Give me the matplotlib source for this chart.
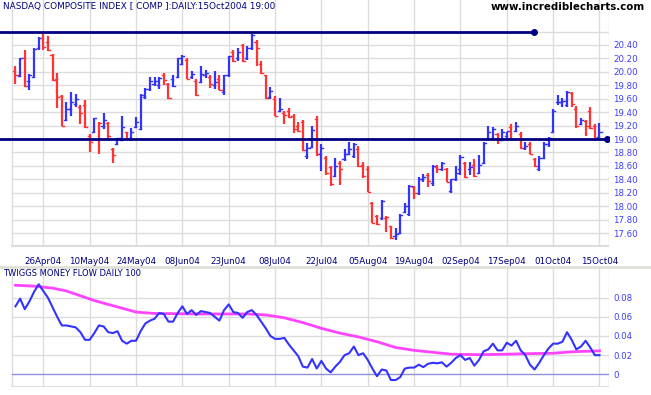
import numpy as np
import matplotlib
matplotlib.use("Agg")
import matplotlib.pyplot as plt

# daily bars, 16 Apr 2004 .. 15 Oct 2004 (trading-day index)
high = [20.08, 20.21, 20.33, 19.97, 20.36, 20.52, 20.60, 20.54, 20.27, 19.98,
        19.66, 19.55, 19.70, 19.67, 19.50, 19.58, 19.08, 19.32, 19.26, 19.38,
        19.26, 18.87, 19.02, 19.35, 19.11, 19.17, 19.33, 19.67, 19.76, 19.93,
        19.92, 19.93, 19.98, 19.84, 19.96, 20.21, 20.25, 20.20, 20.02, 19.89,
        20.08, 20.03, 19.95, 20.02, 19.95, 19.95, 20.24, 20.33, 20.35, 20.42,
        20.39, 20.57, 20.47, 20.16, 19.96, 19.77, 19.64, 19.61, 19.41, 19.46,
        19.37, 19.25, 19.28, 18.94, 19.19, 19.34, 18.92, 18.75, 18.60, 18.71,
        18.68, 18.85, 18.96, 18.94, 18.89, 18.66, 18.60, 18.06, 17.87, 18.09,
        17.85, 17.71, 17.67, 17.89, 18.04, 18.31, 18.30, 18.43, 18.48, 18.49,
        18.61, 18.61, 18.66, 18.57, 18.41, 18.60, 18.76, 18.66, 18.66, 18.70,
        18.76, 18.95, 19.19, 19.18, 19.09, 19.15, 19.11, 19.22, 19.26, 19.10,
        18.95, 18.96, 18.72, 18.75, 18.95, 19.03, 19.44, 19.65, 19.61, 19.72,
        19.70, 19.49, 19.31, 19.29, 19.47, 19.22, 19.24]
low = [19.82, 19.92, 19.78, 19.73, 19.91, 20.33, 20.33, 20.31, 19.87, 19.46,
       19.19, 19.27, 19.34, 19.48, 19.23, 19.17, 18.80, 19.09, 18.78, 19.15,
       18.98, 18.65, 18.91, 18.97, 18.98, 19.00, 19.16, 19.14, 19.59, 19.71,
       19.79, 19.74, 19.80, 19.60, 19.78, 19.92, 20.10, 19.90, 19.90, 19.64,
       19.83, 19.91, 19.76, 19.75, 19.73, 19.66, 19.92, 20.15, 20.16, 20.15,
       20.17, 20.32, 20.08, 19.97, 19.60, 19.60, 19.34, 19.40, 19.22, 19.31,
       19.09, 19.11, 18.82, 18.70, 18.86, 18.74, 18.53, 18.46, 18.30, 18.43,
       18.32, 18.67, 18.76, 18.71, 18.59, 18.42, 18.21, 17.75, 17.72, 17.80,
       17.61, 17.51, 17.50, 17.58, 17.90, 17.85, 18.11, 18.16, 18.36, 18.28,
       18.30, 18.50, 18.53, 18.36, 18.19, 18.38, 18.46, 18.42, 18.47, 18.44,
       18.48, 18.63, 18.98, 19.00, 18.92, 18.97, 18.97, 18.99, 19.10, 18.85,
       18.83, 18.77, 18.58, 18.52, 18.70, 18.88, 19.09, 19.50, 19.47, 19.47,
       19.47, 19.17, 19.21, 19.05, 19.15, 19.01, 19.01]
open_ = [20.02, 19.94, 20.20, 19.87, 19.92, 20.35, 20.50, 20.45, 20.25, 19.90,
         19.64, 19.28, 19.45, 19.52, 19.47, 19.50, 19.05, 19.10, 19.00, 19.20,
         19.24, 18.85, 18.93, 18.98, 19.10, 19.02, 19.18, 19.15, 19.62, 19.75,
         19.82, 19.80, 19.95, 19.82, 19.90, 19.93, 20.12, 20.18, 19.93, 19.86,
         19.85, 19.95, 19.92, 19.80, 19.90, 19.70, 19.95, 20.30, 20.20, 20.40,
         20.20, 20.35, 20.45, 20.12, 19.95, 19.62, 19.60, 19.42, 19.38, 19.42,
         19.35, 19.20, 19.25, 18.75, 18.88, 19.30, 18.78, 18.72, 18.58, 18.45,
         18.65, 18.70, 18.78, 18.75, 18.85, 18.62, 18.55, 18.05, 17.85, 17.82,
         17.82, 17.70, 17.55, 17.60, 17.92, 17.88, 18.28, 18.20, 18.40, 18.46,
         18.35, 18.58, 18.56, 18.55, 18.22, 18.40, 18.55, 18.64, 18.55, 18.62,
         18.50, 18.65, 19.00, 19.02, 19.08, 18.98, 19.05, 19.18, 19.12, 19.08,
         18.87, 18.92, 18.70, 18.55, 18.72, 18.92, 19.10, 19.55, 19.55, 19.50,
         19.68, 19.45, 19.22, 19.27, 19.42, 19.20, 19.03]
close = [19.95, 20.20, 19.79, 19.96, 20.34, 20.51, 20.37, 20.32, 19.88, 19.62,
         19.20, 19.45, 19.55, 19.59, 19.39, 19.18, 18.96, 19.31, 19.24, 19.28,
         19.05, 18.76, 19.01, 19.18, 19.00, 19.11, 19.25, 19.66, 19.75, 19.86,
         19.87, 19.91, 19.88, 19.61, 19.79, 20.20, 20.24, 19.90, 19.97, 19.65,
         19.97, 19.98, 19.82, 19.85, 19.73, 19.95, 20.24, 20.16, 20.30, 20.16,
         20.35, 20.55, 20.35, 19.99, 19.61, 19.72, 19.35, 19.45, 19.36, 19.33,
         19.15, 19.12, 18.84, 18.87, 19.14, 18.77, 18.87, 18.50, 18.33, 18.60,
         18.56, 18.78, 18.85, 18.93, 18.60, 18.45, 18.21, 17.75, 17.73, 18.08,
         17.84, 17.52, 17.58, 17.87, 18.00, 18.30, 18.20, 18.40, 18.43, 18.38,
         18.60, 18.55, 18.64, 18.36, 18.40, 18.50, 18.73, 18.44, 18.58, 18.45,
         18.62, 18.94, 19.10, 19.15, 18.98, 19.10, 19.12, 19.00, 19.20, 18.86,
         18.90, 18.78, 18.60, 18.72, 18.92, 19.02, 19.42, 19.55, 19.57, 19.70,
         19.52, 19.20, 19.28, 19.20, 19.16, 19.02, 19.10]

date_pos = [6, 16, 26, 36, 46, 56, 66, 76, 86, 96, 106, 116, 126]
date_lbl = ["26Apr04", "10May04", "24May04", "08Jun04", "23Jun04", "08Jul04",
            "22Jul04", "05Aug04", "19Aug04", "02Sep04", "17Sep04", "01Oct04",
            "15Oct04"]
price_ticks = [17.60, 17.80, 18.00, 18.20, 18.40, 18.60, 18.80, 19.00,
               19.20, 19.40, 19.60, 19.80, 20.00, 20.20, 20.40]

# trend lines (level, end index)
resist_level, resist_end = 20.59, 111.8
support_level, support_end = 19.00, 127.6

# Twiggs money flow (one value per bar) and its signal line
tmf = [0.071, 0.079, 0.068, 0.076, 0.086, 0.094, 0.087, 0.080, 0.070, 0.060,
       0.051, 0.051, 0.050, 0.049, 0.044, 0.036, 0.036, 0.043, 0.051, 0.050,
       0.044, 0.043, 0.045, 0.035, 0.032, 0.035, 0.035, 0.045, 0.053, 0.056,
       0.058, 0.064, 0.063, 0.055, 0.055, 0.064, 0.071, 0.063, 0.067, 0.062,
       0.066, 0.065, 0.064, 0.060, 0.056, 0.067, 0.073, 0.065, 0.064, 0.059,
       0.065, 0.067, 0.062, 0.055, 0.048, 0.040, 0.037, 0.037, 0.038, 0.031,
       0.025, 0.019, 0.008, 0.007, 0.016, 0.006, 0.014, 0.006, 0.002, 0.008,
       0.013, 0.020, 0.022, 0.029, 0.020, 0.022, 0.015, 0.006, -0.002, 0.005,
       0.004, -0.006, -0.006, -0.003, 0.006, 0.007, 0.007, 0.010, 0.0075, 0.011,
       0.012, 0.0115, 0.0125, 0.008, 0.012, 0.017, 0.020, 0.015, 0.017, 0.009,
       0.015, 0.024, 0.026, 0.032, 0.025, 0.025, 0.033, 0.030, 0.035, 0.025,
       0.020, 0.010, 0.005, 0.012, 0.020, 0.027, 0.032, 0.032, 0.034, 0.044,
       0.036, 0.026, 0.029, 0.035, 0.028, 0.020, 0.020]
sig_idx = [0, 4, 8, 11, 14, 17, 20, 23, 26, 30, 40, 50, 54, 58, 62, 66, 70,
           74, 78, 82, 86, 90, 94, 100, 106, 110, 116, 120, 126]
sig_val = [0.093, 0.092, 0.090, 0.087, 0.082, 0.077, 0.073, 0.069, 0.065,
           0.0635, 0.063, 0.063, 0.062, 0.059, 0.054, 0.048, 0.043, 0.039,
           0.034, 0.028, 0.025, 0.023, 0.021, 0.0205, 0.021, 0.0215, 0.022,
           0.0235, 0.0245]
tmf_ticks = [0, 0.02, 0.04, 0.06, 0.08]

W, H = 651, 395
NAVY = "#000080"
LBLUE = "#3c3cff"
GRID = "#dcdcdc"
UP, DOWN = "#3333ff", "#ff3333"

fig = plt.figure(figsize=(W / 100, H / 100), dpi=100)
x0, x1 = -3.34, 128.05   # data x range across 0..609 px
xl, xr = -0.76, 128.0    # chart borders

def px_axes(top, bottom):
    return fig.add_axes([0, 1 - bottom / H, 609 / W, (bottom - top) / H])

# ---- price panel
ax = px_axes(0, 247)
ax.set_xlim(x0, x1)
ax.set_ylim(17.392, 21.07)
for s in ax.spines.values():
    s.set_visible(False)
for lv in np.arange(17.6, 20.61, 0.2):
    ax.plot([xl, xr], [lv, lv], color=GRID, lw=1, zorder=0)
for p in date_pos:
    ax.axvline(p, color=GRID, lw=1, zorder=0)
ax.axvline(xl, color=GRID, lw=1, zorder=0)
ax.axvline(xr, color=GRID, lw=1, zorder=0)
ax.plot([xl, xr], [17.40, 17.40], color=GRID, lw=1.5, zorder=0)

n = len(close)
for i in range(n):
    prev = close[i - 1] if i > 0 else open_[0]
    col = UP if close[i] >= prev else DOWN
    ax.plot([i, i], [low[i], high[i]], color=col, lw=1.6, solid_capstyle="butt")
    ax.plot([i - 0.45, i], [open_[i], open_[i]], color=col, lw=1)
    ax.plot([i, i + 0.45], [close[i], close[i]], color=col, lw=1)

ax.plot([x0, resist_end], [resist_level] * 2, color=NAVY, lw=2)
ax.plot([resist_end], [resist_level], "o", color=NAVY, ms=4)
ax.plot([x0, support_end], [support_level] * 2, color=NAVY, lw=2)
ax.plot([support_end], [support_level], "o", color=NAVY, ms=4)

ax.yaxis.tick_right()
ax.set_yticks(price_ticks, ["%.2f" % v for v in price_ticks])
ax.tick_params(axis="y", length=0, pad=3, labelsize=6.2, labelcolor=LBLUE)
ax.set_xticks(date_pos, date_lbl)
ax.tick_params(axis="x", length=0, pad=7, labelsize=6.3, labelcolor=NAVY)

fig.text(3 / W, 1 - 7 / H, "NASDAQ COMPOSITE INDEX [ COMP ]:DAILY:15Oct2004 19:00",
         color=NAVY, fontsize=6.4, va="center", ha="left")
fig.text(645 / W, 1 - 7 / H, "www.incrediblecharts.com", color="black",
         fontsize=7.4, fontweight="bold", va="center", ha="right")

# separator between panels
fig.add_artist(plt.Line2D([0, 1], [1 - 267 / H] * 2, color="#e0e0d8", lw=2))

# ---- money flow panel
bx = px_axes(268, 387)
bx.set_xlim(x0, x1)
bx.set_ylim(-0.01326, 0.111)
for s in bx.spines.values():
    s.set_visible(False)
for lv in tmf_ticks[1:]:
    bx.plot([xl, xr], [lv, lv], color=GRID, lw=1, zorder=0)
for p in date_pos:
    bx.axvline(p, color=GRID, lw=1, zorder=0)
bx.axvline(xl, color=GRID, lw=1, zorder=0)
bx.axvline(xr, color=GRID, lw=1, zorder=0)
bx.plot([xl, xr], [-0.0133, -0.0133], color=GRID, lw=2, zorder=0)
bx.plot([xl, xr], [0, 0], color="#9090e0", lw=1, zorder=1)

bx.plot(sig_idx, sig_val, color="#ff44ff", lw=2, zorder=2)
bx.plot(range(len(tmf)), tmf, color="#3333ff", lw=1.5, zorder=3)

bx.yaxis.tick_right()
bx.set_yticks(tmf_ticks, ["0", "0.02", "0.04", "0.06", "0.08"])
bx.tick_params(axis="y", length=0, pad=3, labelsize=6.2, labelcolor=LBLUE)
bx.set_xticks([])
bx.text(3 / 609, 1 - 6 / 119, "TWIGGS MONEY FLOW DAILY 100", transform=bx.transAxes,
        color=NAVY, fontsize=6, va="center", ha="left")

fig.savefig("out.png", dpi=100)
